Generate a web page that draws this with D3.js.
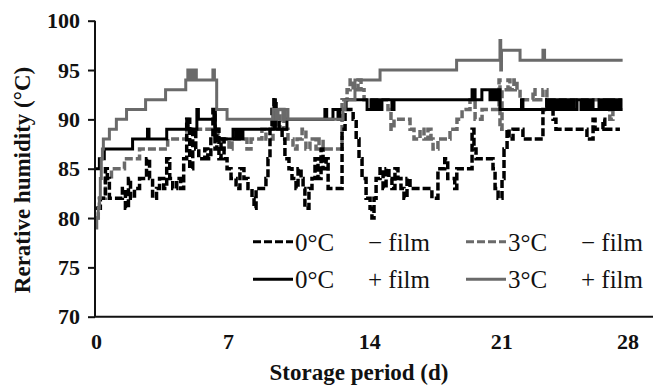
<!DOCTYPE html>
<html><head><meta charset="utf-8">
<script src="https://cdn.jsdelivr.net/npm/d3@7"></script>
<style>
body{margin:0;background:#fff}
svg{display:block}
text{font-family:"Liberation Serif","Times New Roman",serif;fill:#111}
</style>
</head><body>
<svg id="chart" width="657" height="385"></svg>
<script>
// ---- data ----
const xTicks = [0, 7, 14, 21, 28];
const yTicks = [70, 75, 80, 85, 90, 95, 100];
const seriesNames = ["0°C", "3°C"];
const filmLabels = ["\u2212 film", "+ film"];
const xTitle = "Storage period (d)";
const yTitle = "Rerative humidity (°C)";

// 0°C − film  [day, RH%]
const c0NoFilm = [
 [0,81],[0.23,82],[0.50,85],[0.60,84],[0.71,82],[1.40,83],[1.56,81],[1.72,84],[1.83,82],[2.04,83],
 [2.31,84],[2.68,86],[2.84,84],[3.00,82],[3.21,83],[3.37,84],[3.59,83],[3.75,86],[3.91,84],[4.07,83],
 [4.28,84],[4.49,83],[4.65,86],[4.81,90],[4.97,85],[5.13,89],[5.29,87],[5.45,86],[5.77,87],[5.93,86],
 [6.09,88],[6.20,91],[6.31,87],[6.41,89],[6.52,86],[6.63,88],[6.79,86],[6.95,85],[7.15,84],[7.40,83],
 [7.59,85],[7.79,84],[7.99,83],[8.19,82],[8.29,81],[8.39,83],[8.88,84],[8.98,86],[9.08,89],[9.18,91],
 [9.28,92],[9.38,90],[9.53,89],[9.68,88],[9.82,86],[10.02,85],[10.17,84],[10.37,83],[10.47,85],[10.62,84],
 [10.72,83],[10.81,81],[11.01,83],[11.16,84],[11.31,86],[11.46,84],[11.61,87],[11.71,85],[11.86,86],[11.96,83],
 [12.65,89],[12.80,91],[13.20,90],[13.35,88],[13.49,86],[13.64,84],[13.84,82],[14.04,81],[14.14,80],[14.25,82],
 [14.36,84],[14.57,85],[14.73,83],[14.89,85],[15.04,84],[15.20,83],[15.36,85],[15.52,84],[15.68,83],[15.84,82],
 [16.00,84],[16.16,83],[17.32,82],[17.64,85],[18.00,86],[18.16,84],[18.53,83],[18.64,85],[19.45,89],[19.55,87],
 [19.66,86],[20.56,85],[20.67,83],[20.83,82],[21.04,84],[21.15,87],[21.32,89],[21.43,88],[21.65,89],[22.20,88],
 [23.31,91],[23.53,92],[23.65,91],[23.87,90],[24.03,89],[25.75,88],[26.09,90],[26.20,89],[26.64,90],[26.74,89],
 [27.58,89]
];

// 3°C − film
const c3NoFilm = [
 [0,80],[0.12,81],[0.18,82],[0.50,84],[0.82,85],[1.51,86],[2.31,87],[3.80,88],[4.81,89],[6.47,88],
 [6.63,87],[6.79,88],[7.05,87],[7.20,88],[7.94,87],[8.14,88],[8.68,89],[8.88,88],[9.23,91],[9.38,89],
 [9.58,91],[9.77,89],[9.97,88],[10.22,87],[10.42,88],[10.67,89],[10.86,87],[11.06,88],[11.36,87],[11.51,88],
 [11.71,87],[12.65,92],[12.90,93],[13.05,94],[13.20,93],[13.44,94],[13.59,93],[13.74,92],[14.99,91],[15.15,89],
 [15.31,90],[16.16,89],[16.37,88],[16.69,89],[16.90,88],[17.11,89],[17.27,88],[17.38,87],[17.64,88],[18.28,89],
 [18.65,90],[18.92,91],[19.34,92],[19.61,90],[19.98,91],[20.88,94],[20.93,89],[21.04,93],[21.37,94],[21.48,93],
 [21.70,94],[21.87,93],[22.04,92],[22.76,93],[22.87,92],[23.31,93],[23.53,92],[27.02,90],[27.19,92],[27.69,92]
];

// 0°C + film
const c0Film = [
 [0,85],[0.18,86],[0.44,87],[1.94,88],[2.73,89],[2.81,88],[3.75,89],[4.81,90],[4.89,89],[5.35,91],
 [5.43,90],[6.25,91],[6.33,88],[7.25,89],[7.40,88],[7.54,89],[7.64,88],[7.74,89],[9.28,92],[9.35,89],
 [9.92,90],[11.80,91],[11.89,90],[12.20,91],[12.45,90],[12.55,91],[12.85,92],[13.89,91],[14.09,92],[14.25,91],
 [14.41,92],[14.57,91],[14.67,92],[15.20,91],[15.31,92],[19.45,93],[19.61,92],[19.97,93],[20.40,92],[20.51,93],
 [20.67,92],[20.77,93],[20.93,91],[22.12,92],[22.20,91],[23.52,92],[23.65,91],[23.76,92],[23.87,91],[23.98,92],
 [24.09,91],[24.20,92],[24.31,91],[24.42,92],[24.53,91],[24.64,92],[24.76,91],[24.87,92],[25.03,91],[25.20,92],
 [25.42,91],[25.53,92],[25.64,91],[25.75,92],[25.86,91],[25.98,92],[26.09,91],[26.42,92],[26.53,91],[26.64,92],
 [26.74,91],[26.85,92],[26.96,91],[27.08,92],[27.19,91],[27.31,92],[27.42,91],[27.53,92],[27.64,91],[27.73,91]
];

// 3°C + film
const c3Film = [
 [0,79],[0.04,80],[0.12,81],[0.18,82],[0.23,84],[0.28,86],[0.34,87],[0.39,88],[0.71,89],[1.08,90],
 [1.62,91],[2.63,92],[3.69,93],[4.76,94],[4.87,95],[4.95,94],[5.03,95],[5.11,94],[5.24,95],[5.32,94],
 [6.20,95],[6.28,94],[6.40,91],[6.95,90],[9.23,91],[9.38,90],[9.48,91],[9.72,90],[9.82,91],[9.97,90],
 [12.70,91],[12.80,92],[13.29,94],[14.57,95],[18.63,96],[20.93,98],[20.97,95],[21.01,97],[22.04,96],[23.31,97],
 [23.40,96],[27.73,96]
];

// ---- layout ----
const svg = d3.select("#chart");
const x = d3.scaleLinear().domain([0, 7, 14, 21, 28, 29.42]).range([96, 228, 369.3, 501.3, 627.5, 653]);
const y = d3.scaleLinear().domain([70, 100]).range([316.7, 20.7]);
const GRAY = "#6a6a6a";
const DASH = "8,3";

const series = [
  {data: c3NoFilm, color: GRAY,   dash: DASH, w: 3.5},
  {data: c0NoFilm, color: "#000", dash: DASH, w: 3.5},
  {data: c0Film,   color: "#000", dash: null, w: 3},
  {data: c3Film,   color: GRAY,   dash: null, w: 3}
];

const line = d3.line().x(d => x(d[0])).y(d => y(d[1])).curve(d3.curveStepAfter);

svg.append("g").selectAll("path").data(series).join("path")
  .attr("d", s => line(s.data))
  .attr("fill", "none")
  .attr("stroke", s => s.color)
  .attr("stroke-width", s => s.w)
  .attr("stroke-dasharray", s => s.dash);

// axes
const yAxis = svg.append("g").attr("transform", "translate(95,0)")
  .call(d3.axisLeft(y).tickValues(yTicks).tickSize(7).tickPadding(8));
yAxis.select(".domain").attr("stroke", "#111").attr("stroke-width", 2).attr("d", `M0,${y(100)}V${y(70)}`);
yAxis.selectAll(".tick line").attr("stroke", "#111").attr("stroke-width", 2);
yAxis.selectAll("text").attr("font-size", 22).attr("font-weight", "bold")
  .attr("font-family", '"Liberation Serif",serif').attr("fill", "#111");

const xAxis = svg.append("g").attr("transform", `translate(0,${y(70)})`)
  .call(d3.axisBottom(x).tickValues(xTicks).tickSize(0).tickPadding(17));
xAxis.select(".domain").attr("stroke", "#111").attr("stroke-width", 2).attr("d", "M94,0H653");
xAxis.selectAll("text").attr("font-size", 22).attr("font-weight", "bold")
  .attr("font-family", '"Liberation Serif",serif').attr("fill", "#111");

svg.append("text").attr("x", 359).attr("y", 380).attr("text-anchor", "middle")
  .attr("font-size", 23).attr("font-weight", "bold").text(xTitle);
svg.append("text").attr("transform", "translate(30,180) rotate(-90)").attr("text-anchor", "middle")
  .attr("font-size", 23).attr("font-weight", "bold").text(yTitle);

// legend
const legendItems = [
  {name: seriesNames[0], film: filmLabels[0], color: "#000", dash: DASH, col: 0, row: 0},
  {name: seriesNames[1], film: filmLabels[0], color: GRAY,   dash: DASH, col: 1, row: 0},
  {name: seriesNames[0], film: filmLabels[1], color: "#000", dash: null, col: 0, row: 1},
  {name: seriesNames[1], film: filmLabels[1], color: GRAY,   dash: null, col: 1, row: 1}
];
const lg = svg.append("g").selectAll("g").data(legendItems).join("g")
  .attr("transform", d => `translate(${253 + d.col * 213},${241.7 + d.row * 37.5})`);
lg.append("line").attr("x1", 0).attr("x2", 40).attr("y1", 0).attr("y2", 0)
  .attr("stroke", d => d.color).attr("stroke-width", 3).attr("stroke-dasharray", d => d.dash);
lg.append("text").attr("x", 42).attr("y", 9).attr("font-size", 25).text(d => d.name);
lg.append("text").attr("x", 115).attr("y", 9).attr("font-size", 25).text(d => d.film);
</script>
</body></html>
